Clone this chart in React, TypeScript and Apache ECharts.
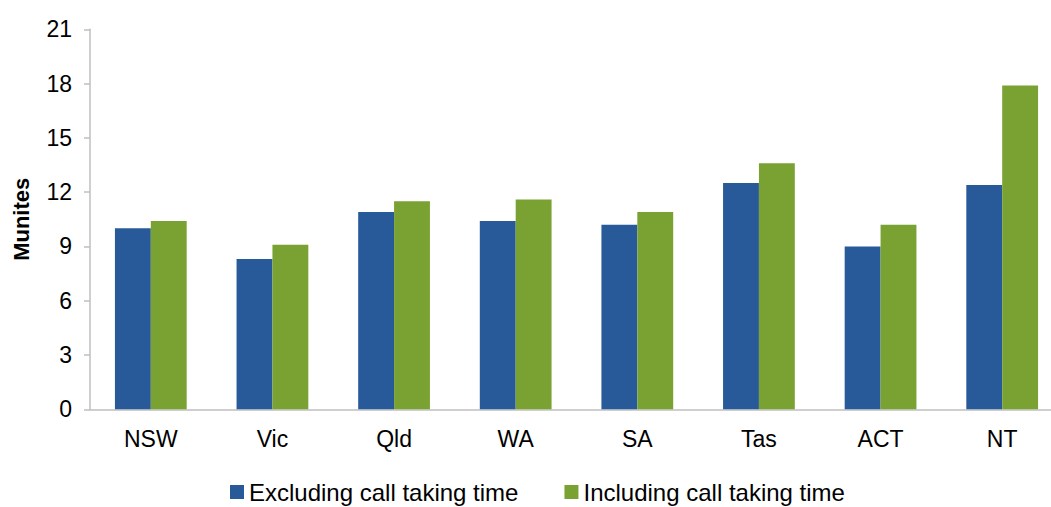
import React, { useEffect, useRef } from "react";
import * as echarts from "echarts";

const categories = ["NSW", "Vic", "Qld", "WA", "SA", "Tas", "ACT", "NT"];
const excluding = [10.0, 8.3, 10.9, 10.4, 10.2, 12.5, 9.0, 12.4];
const including = [10.4, 9.1, 11.5, 11.6, 10.9, 13.6, 10.2, 17.9];
const seriesNames = ["Excluding call taking time", "Including call taking time"];
const yName = "Munites";

const FONT = "'Liberation Sans', Arial, sans-serif";

export default function App() {
  const ref = useRef<HTMLDivElement>(null);
  useEffect(() => {
    if (!ref.current) return;
    const chart = echarts.init(ref.current, null, { renderer: "svg" });
    chart.setOption({
      animation: false,
      backgroundColor: "#ffffff",
      textStyle: { fontFamily: FONT },
      grid: {
        left: 90,
        top: 29.3,
        height: 380,
        width: 973,
        containLabel: false,
        outerBoundsMode: "none",
      },
      legend: {
        data: seriesNames,
        top: 480,
        left: 230,
        padding: 0,
        itemWidth: 14,
        itemHeight: 14,
        itemGap: 46,
        icon: "rect",
        textStyle: { fontSize: 24, color: "#000", fontFamily: FONT },
      },
      xAxis: {
        type: "category",
        data: categories,
        axisLine: { lineStyle: { color: "#bfbfbf", width: 1.5 } },
        axisTick: { show: false },
        axisLabel: { fontSize: 23, color: "#000", margin: 18, fontFamily: FONT },
      },
      yAxis: {
        type: "value",
        min: 0,
        max: 21,
        interval: 3,
        name: yName,
        nameLocation: "middle",
        nameRotate: 90,
        nameGap: 58,
        nameTextStyle: { fontSize: 22, fontWeight: "bold", color: "#000", fontFamily: FONT },
        axisLine: { show: true, lineStyle: { color: "#bfbfbf", width: 1.5 } },
        axisTick: { show: true, length: 6, lineStyle: { color: "#bfbfbf", width: 1.5 } },
        splitLine: { show: false },
        axisLabel: { fontSize: 23, color: "#000", margin: 18, fontFamily: FONT },
      },
      series: [
        {
          name: seriesNames[0],
          type: "bar",
          data: excluding,
          barGap: "0%",
          barCategoryGap: "41%",
          itemStyle: { color: "#285A9A" },
        },
        {
          name: seriesNames[1],
          type: "bar",
          data: including,
          barGap: "0%",
          barCategoryGap: "41%",
          itemStyle: { color: "#7AA232" },
        },
      ],
    });
    return () => chart.dispose();
  }, []);
  return (
    <div
      ref={ref}
      style={{ position: "absolute", left: 0, top: 0, width: 1051, height: 507, overflow: "hidden" }}
    />
  );
}
